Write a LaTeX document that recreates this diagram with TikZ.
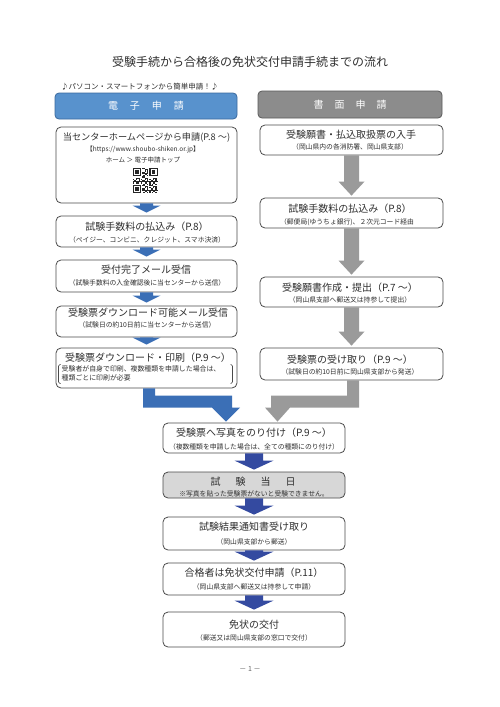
\documentclass[tikz,border=0pt]{standalone}
\usepackage{fontspec}
\setmainfont{Noto Sans CJK JP}
\usetikzlibrary{calc}
\definecolor{hdrblue}{HTML}{5892CD}
\definecolor{hdrblueline}{HTML}{3B6A9E}
\definecolor{hdrgray}{HTML}{8C8C8C}
\definecolor{hdrgrayline}{HTML}{5A5A5A}
\definecolor{arrowblue}{HTML}{3B6FB6}
\definecolor{arrownavy}{HTML}{344AA0}
\definecolor{arrowgray}{HTML}{9A9A9A}
\definecolor{daygray}{HTML}{D7D7D7}
\definecolor{boxline}{HTML}{4A4A4A}
\definecolor{txt}{HTML}{2F2F2F}
\tikzset{
  box/.style={draw=boxline, line width=0.8pt, rounded corners=5pt, fill=white, inner sep=0pt},
  hdr/.style={rounded corners=4pt, line width=0.8pt, inner sep=0pt, text=white,
              font=\fontsize{10}{12}\selectfont},
  maintxt/.style={font=\fontsize{10}{12}\selectfont, inner sep=0pt, text=txt},
  smalltxt/.style={font=\fontsize{9.2}{11}\selectfont, inner sep=0pt, text=txt},
  subtxt/.style={font=\fontsize{6.8}{8}\selectfont, inner sep=0pt, text=txt},
  tinytxt/.style={font=\fontsize{6.5}{8}\selectfont, inner sep=0pt, text=txt},
  brk/.style={draw=boxline, line width=0.6pt, rounded corners=1.5pt},
}
% block arrow: colour, from node, to node, shaft half width, head half width, head length, gap
\newcommand\blockarrow[7]{%
  \fill[#1] let \p1=(#2.south), \p2=(#3.north) in
    (\x1-#4pt,\y1) -- (\x1-#4pt,\y2+#7pt+#6pt) -- (\x1-#5pt,\y2+#7pt+#6pt)
    -- (\x1,\y2+#7pt) -- (\x1+#5pt,\y2+#7pt+#6pt) -- (\x1+#4pt,\y2+#7pt+#6pt)
    -- (\x1+#4pt,\y1) -- cycle;}
\begin{document}
\begin{tikzpicture}[x=1pt,y=-1pt]
\fill[white] (0,0) rectangle (500,707);
\useasboundingbox (0,0) rectangle (500,707);

% title
\node[inner sep=0pt, text=txt, font=\fontsize{12}{14}\selectfont] (title) at (250,62)
  {受験手続から合格後の免状交付申請手続までの流れ};
\node[inner sep=0pt, anchor=west, text=txt, font=\fontsize{7.5}{9}\selectfont] (sub) at (61,87)
  {♪パソコン・スマートフォンから簡単申請！♪};

% headers
\node[hdr, fill=hdrblue, draw=hdrblueline, minimum width=182pt, minimum height=26pt] (HL) at (146,106)
  {電\hspace{1.2em}子\hspace{1.2em}申\hspace{1.2em}請};
\node[hdr, fill=hdrgray, draw=hdrgrayline, minimum width=184pt, minimum height=27pt] (HR) at (350,104.5)
  {書\hspace{1.1em}面\hspace{1.1em}申\hspace{1.1em}請};

% left column boxes
\node[box, minimum width=181pt, minimum height=76pt] (L1) at (146.5,165) {};
\node[box, minimum width=181pt, minimum height=31pt] (L2) at (146.5,231.5) {};
\node[box, minimum width=181pt, minimum height=32pt] (L3) at (146.5,276) {};
\node[box, minimum width=181pt, minimum height=31pt] (L4) at (146.5,321.5) {};
\node[box, minimum width=181pt, minimum height=40pt] (L5) at (146.5,368) {};

% right column boxes
\node[box, minimum width=183pt, minimum height=30pt] (R1) at (351.5,140) {};
\node[box, minimum width=183pt, minimum height=30pt] (R2) at (351.5,213) {};
\node[box, minimum width=183pt, minimum height=30pt] (R3) at (351.5,292) {};
\node[box, minimum width=183pt, minimum height=32pt] (R4) at (351.5,364) {};

% centre boxes
\node[box, minimum width=182pt, minimum height=30pt] (C1) at (254,438) {};
\node[box, fill=daygray, minimum width=182pt, minimum height=26pt] (C2) at (254,485) {};
\node[box, minimum width=182pt, minimum height=33pt] (C3) at (254,533.5) {};
\node[box, minimum width=182pt, minimum height=32pt] (C4) at (254,579) {};
\node[box, minimum width=182pt, minimum height=35pt] (C5) at (254,629.5) {};

% texts left
\node[smalltxt] (L1a) at (146.5,138) {当センターホームページから申請(P.8 ～)};
\node[tinytxt] (L1b) at (143,150) {【https://www.shoubo-shiken.or.jp】};
\node[tinytxt] (L1c) at (143,160) {ホーム ＞ 電子申請トップ};
\node[maintxt] (L2a) at (147,227) {試験手数料の払込み（P.8）};
\node[subtxt] (L2b) at (147,240) {（ペイジー、コンビニ、クレジット、スマホ決済）};
\node[maintxt] (L3a) at (146,270) {受付完了メール受信};
\node[subtxt] (L3b) at (147,283) {（試験手数料の入金確認後に当センターから送信）};
\node[maintxt] (L4a) at (148,313) {受験票ダウンロード可能メール受信};
\node[subtxt] (L4b) at (147,325) {（試験日の約10日前に当センターから送信）};
\node[maintxt] (L5a) at (148,358) {受験票ダウンロード・印刷（P.9 ～）};
\node[subtxt, anchor=north west, align=left, font=\fontsize{6.9}{9.3}\selectfont] (L5b) at (61.5,365.5)
  {受験者が自身で印刷、複数種類を申請した場合は、\\種類ごとに印刷が必要};
\draw[brk] (60.5,364.5) -- (58.5,364.5) -- (58.5,383.5) -- (60.5,383.5);
\draw[brk] (230.5,364.5) -- (232.5,364.5) -- (232.5,383.5) -- (230.5,383.5);

% QR code
\begin{scope}[shift={(132.5,168)}]
  \foreach \i in {0,...,20}{
    \foreach \j in {0,...,20}{
      \pgfmathtruncatemacro\fnd{((\i<8)&&(\j<8))||((\i>12)&&(\j<8))||((\i<8)&&(\j>12))}
      \pgfmathtruncatemacro\v{mod(\i*\i*7+\j*\j*3+\i*\j*5+\i+2*\j,7)}
      \ifnum\fnd=0 \ifnum\v<3
        \fill[black!85] (\i*1.2,\j*1.2) rectangle ++(1.2,1.2);
      \fi\fi
    }}
  \foreach \ox/\oy in {0/0,16.8/0,0/16.8}{
    \fill[black!85] (\ox,\oy) rectangle ++(8.4,8.4);
    \fill[white] (\ox+1.2,\oy+1.2) rectangle ++(6,6);
    \fill[black!85] (\ox+2.4,\oy+2.4) rectangle ++(3.6,3.6);
  }
\end{scope}

% texts right
\node[maintxt] (R1a) at (351,135) {受験願書・払込取扱票の入手};
\node[subtxt] (R1b) at (350,147) {（岡山県内の各消防署、岡山県支部）};
\node[maintxt] (R2a) at (350,209) {試験手数料の払込み（P.8）};
\node[subtxt] (R2b) at (347,222) {（郵便局(ゆうちょ銀行)、２次元コード経由};
\node[maintxt] (R3a) at (350,288) {受験願書作成・提出（P.7 ～）};
\node[subtxt] (R3b) at (350,300) {（岡山県支部へ郵送又は持参して提出）};
\node[maintxt] (R4a) at (350,360) {受験票の受け取り（P.9 ～）};
\node[subtxt] (R4b) at (350,372) {（試験日の約10日前に岡山県支部から発送）};

% texts centre
\node[maintxt] (C1a) at (254,433) {受験票へ写真をのり付け（P.9 ～）};
\node[subtxt] (C1b) at (254,447) {（複数種類を申請した場合は、全ての種類にのり付け）};
\node[maintxt] (C2a) at (253,482) {試\hspace{1.5em}験\hspace{1.5em}当\hspace{1.5em}日};
\node[subtxt] (C2b) at (254,493.5) {※写真を貼った受験票がないと受験できません。};
\node[maintxt] (C3a) at (254,527) {試験結果通知書受け取り};
\node[subtxt] (C3b) at (254,542) {（岡山県支部から郵送）};
\node[maintxt] (C4a) at (254,573) {合格者は免状交付申請（P.11）};
\node[subtxt] (C4b) at (254,587) {（岡山県支部へ郵送又は持参して申請）};
\node[maintxt] (C5a) at (254,625) {免状の交付};
\node[subtxt] (C5b) at (254,638) {（郵送又は岡山県支部の窓口で交付）};

% footer
\node[inner sep=0pt, text=black!60, font=\fontsize{7}{8}\selectfont] (foot) at (250,669) {－ 1 －};

% arrows left column
\blockarrow{arrowblue}{L1}{L2}{6.5}{14}{7}{3}
\blockarrow{arrowblue}{L2}{L3}{6.5}{14}{7}{3}
\blockarrow{arrowblue}{L3}{L4}{6.5}{14}{7}{3}
\blockarrow{arrowblue}{L4}{L5}{6.5}{14}{7}{3}
% arrows right column
\blockarrow{arrowgray}{R1}{R2}{7.5}{13}{14}{2}
\blockarrow{arrowgray}{R2}{R3}{7.5}{13}{14}{2}
\blockarrow{arrowgray}{R3}{R4}{7.5}{13}{14}{2}
% arrows centre
\blockarrow{arrownavy}{C1}{C2}{9}{19.5}{9}{2}
\blockarrow{arrownavy}{C2}{C3}{9}{19.5}{9}{2}
\blockarrow{arrownavy}{C3}{C4}{9}{19.5}{9}{2}
\blockarrow{arrownavy}{C4}{C5}{9}{19.5}{9}{2}

% bent arrows
\fill[arrowblue] let \p1=(L5.south), \p2=(C1.north) in
  (\x1-3.5pt,\y1) -- (\x1-3.5pt,\y2+15pt) -- (\x2-42pt,\y2+15pt) -- (\x2-28pt,\y2+1pt)
  -- (\x2-14pt,\y2+15pt) -- (\x2-22pt,\y2+15pt) -- (\x2-22pt,\y2+27pt)
  -- (\x1+8.5pt,\y2+27pt) -- (\x1+8.5pt,\y1) -- cycle;
\fill[arrowgray] let \p1=(R4.south), \p2=(C1.north) in
  (\x1+7.5pt,\y1) -- (\x1+7.5pt,\y2+15pt) -- (\x2+36pt,\y2+15pt) -- (\x2+23.5pt,\y2+1pt)
  -- (\x2+11pt,\y2+15pt) -- (\x2+17pt,\y2+15pt) -- (\x2+17pt,\y2+27pt)
  -- (\x1-4.5pt,\y2+27pt) -- (\x1-4.5pt,\y1) -- cycle;
\end{tikzpicture}
\end{document}
